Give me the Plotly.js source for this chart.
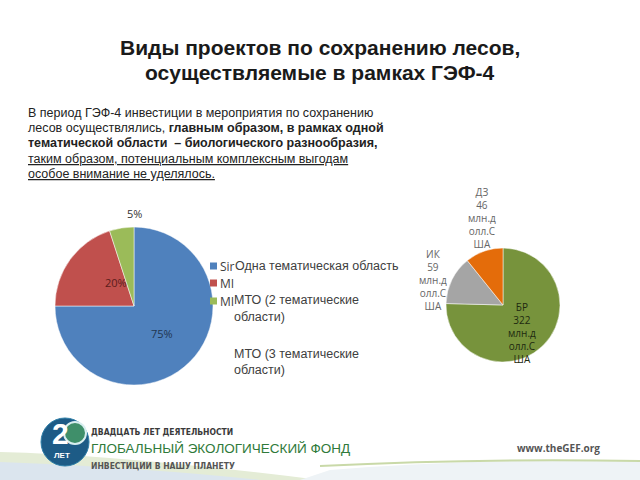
<!DOCTYPE html>
<html><head><meta charset="utf-8">
<script src="https://cdn.plot.ly/plotly-3.0.1.min.js"></script>
<style>html,body{margin:0;padding:0;background:#fff}#c{width:640px;height:480px}</style>
</head><body><div id="c"></div>
<script>
// ---- data ----
var leftLabels = ['Одна тематическая область', 'МТО (2 тематические области)', 'МТО (3 тематические области)'];
var leftLegendShort = ['Sir', 'MI', 'MI'];
var leftValues = [75, 20, 5];
var leftColors = ['#4F81BD', '#C0504D', '#9BBB59'];
var rightLabels = ['БР', 'ИК', 'ДЗ'];
var rightValues = [322, 59, 46];
var rightUnit = 'млн.долл.США';
var rightColors = ['#77933C', '#A5A5A5', '#E46C0A'];

var W = 640, H = 480;
function px(x){return x/W;}
function py(y){return 1 - y/H;}
function dom(x0,x1,y0,y1){return {x:[px(x0),px(x1)], y:[py(y1),py(y0)]};}

var traces = [
  {type:'pie', values:leftValues, labels:leftLabels, sort:false, direction:'clockwise', rotation:0,
   marker:{colors:leftColors, line:{color:'#ffffff', width:0.5}}, textinfo:'none', hoverinfo:'none',
   domain:dom(55,213,227,385), showlegend:false},
  {type:'pie', values:rightValues, labels:rightLabels, sort:false, direction:'clockwise', rotation:0,
   marker:{colors:rightColors, line:{color:'#ffffff', width:0.5}}, textinfo:'none', hoverinfo:'none',
   domain:dom(446,560,248,362), showlegend:false}
];

var ann = [];
function A(x,y,t,o){
  var a = {x:px(x), y:py(y), xref:'paper', yref:'paper', text:t, showarrow:false,
    xanchor:'left', yanchor:'middle', font:{family:'Liberation Sans, Arial, sans-serif', size:12, color:'#333'}};
  for (var k in o){ if(k==='font'){ for(var f in o.font) a.font[f]=o.font[f]; } else a[k]=o[k]; }
  ann.push(a);
}
// title
A(320,48,'<b>Виды проектов по сохранению лесов,</b>',{xanchor:'center',font:{size:21,color:'#1a1a1a'}});
A(320,72,'<b>осуществляемые в рамках ГЭФ-4</b>',{xanchor:'center',font:{size:21,color:'#1a1a1a'}});
// paragraph
var para = [
  'В период ГЭФ-4 инвестиции в мероприятия по сохранению',
  'лесов осуществлялись, <b>главным образом, в рамках одной</b>',
  '<b>тематической области  – биологического разнообразия,</b>',
  '<u>таким образом, потенциальным комплексным выгодам</u>',
  '<u>особое внимание не уделялось.</u>'
];
para.forEach(function(t,i){ A(26,113+i*15.2,t,{font:{size:12.5,color:'#222'}}); });

// left pie labels
var pct = leftValues.map(function(v){return v+'%';});
A(162,333,pct[0],{xanchor:'center',font:{family:'Open Sans, Liberation Sans, sans-serif',size:11,color:'#1f3550'}});
A(116,282,pct[1],{xanchor:'center',font:{family:'Open Sans, Liberation Sans, sans-serif',size:11,color:'#5a1c1a'}});
A(134,213,pct[2],{xanchor:'center',font:{family:'Open Sans, Liberation Sans, sans-serif',size:11,color:'#333'}});

// left legend
var shapes = [];
var legY = [266, 283, 301];
legY.forEach(function(y,i){
  shapes.push({type:'rect', xref:'paper', yref:'paper', x0:px(210), x1:px(217), y0:py(y+3.5), y1:py(y-3.5),
    fillcolor:leftColors[i], line:{width:0}});
  A(218,y,leftLegendShort[i],{font:{family:'Open Sans, Liberation Sans, sans-serif',size:12,color:'#404040'}});
});
A(233,266,leftLabels[0],{font:{size:12.5,color:'#404040'}});
A(232,300,'МТО (2 тематические',{font:{size:12.5,color:'#404040'}});
A(232,317,'области)',{font:{size:12.5,color:'#404040'}});
A(232,354,'МТО (3 тематические',{font:{size:12.5,color:'#404040'}});
A(232,370,'области)',{font:{size:12.5,color:'#404040'}});

// right pie labels
function chunk(s,n){var r=[];for(var i=0;i<s.length;i+=n)r.push(s.slice(i,i+n));return r;}
var unitParts = chunk(rightUnit,5);
var rPos = [[522,333,'#1e2a10'],[433,280,'#666'],[482,218,'#666']];
rightLabels.forEach(function(l,i){
  var t = [l, String(rightValues[i])].concat(unitParts).join('<br>');
  A(rPos[i][0],rPos[i][1],t,{xanchor:'center',font:{family:'Open Sans, Liberation Sans, sans-serif',size:10,color:rPos[i][2]}});
});

// footer decoration
shapes.push({type:'path', xref:'paper', yref:'paper', layer:'below',
  path:'M 0 '+py(452)+' Q '+px(120)+' '+py(455)+' '+px(320)+' '+py(480)+' L 0 '+py(480)+' Z',
  fillcolor:'#e4ecd6', line:{width:0}});
shapes.push({type:'path', xref:'paper', yref:'paper', layer:'below',
  path:'M 0 '+py(462)+' Q '+px(150)+' '+py(468)+' '+px(260)+' '+py(480)+' L 0 '+py(480)+' Z',
  fillcolor:'#dbe5ee', line:{width:0}});
shapes.push({type:'path', xref:'paper', yref:'paper', layer:'below',
  path:'M '+px(330)+' '+py(470)+' Q '+px(480)+' '+py(458)+' '+px(640)+' '+py(461)+' L '+px(640)+' '+py(480)+' L '+px(300)+' '+py(480)+' Z',
  fillcolor:'#eef3f6', line:{width:0}});
shapes.push({type:'path', xref:'paper', yref:'paper',
  path:'M '+px(320)+' '+py(466)+' Q '+px(480)+' '+py(458)+' '+px(640)+' '+py(461),
  line:{color:'#c9d9a8', width:2}});
// logo
shapes.push({type:'circle', xref:'paper', yref:'paper', x0:px(41), x1:px(89), y0:py(466), y1:py(418),
  fillcolor:'#1d5b86', line:{color:'#2f7fa8', width:1}});
shapes.push({type:'circle', xref:'paper', yref:'paper', x0:px(64), x1:px(86), y0:py(444), y1:py(422),
  fillcolor:'#3f8f6a', line:{color:'#d8eef0', width:2}});
A(60,433,'<b>2</b>',{xanchor:'center',font:{size:30,color:'#ffffff'}});
A(62,455,'<b>ЛЕТ</b>',{xanchor:'center',font:{size:8,color:'#ffffff'}});
A(89,432,'<b>ДВАДЦАТЬ ЛЕТ ДЕЯТЕЛЬНОСТИ</b>',{font:{family:'DejaVu Sans Condensed, Liberation Sans Narrow, sans-serif',size:8.5,color:'#3a3a3a'}});
A(89,448,'ГЛОБАЛЬНЫЙ ЭКОЛОГИЧЕСКИЙ ФОНД',{font:{family:'Liberation Sans, Arial, sans-serif',size:13.5,color:'#2f7a3a'}});
A(89,466,'<b>ИНВЕСТИЦИИ В НАШУ ПЛАНЕТУ</b>',{font:{family:'DejaVu Sans Condensed, Liberation Sans Narrow, sans-serif',size:8.5,color:'#555'}});
A(515,448,'<b>www.theGEF.org</b>',{font:{family:'Open Sans, Liberation Sans, sans-serif',size:10,color:'#555'}});

var layout = {width:W, height:H, margin:{l:0,r:0,t:0,b:0}, paper_bgcolor:'#ffffff', plot_bgcolor:'#ffffff',
  showlegend:false, annotations:ann, shapes:shapes};
Plotly.newPlot('c', traces, layout, {staticPlot:true, displayModeBar:false});
</script></body></html>
